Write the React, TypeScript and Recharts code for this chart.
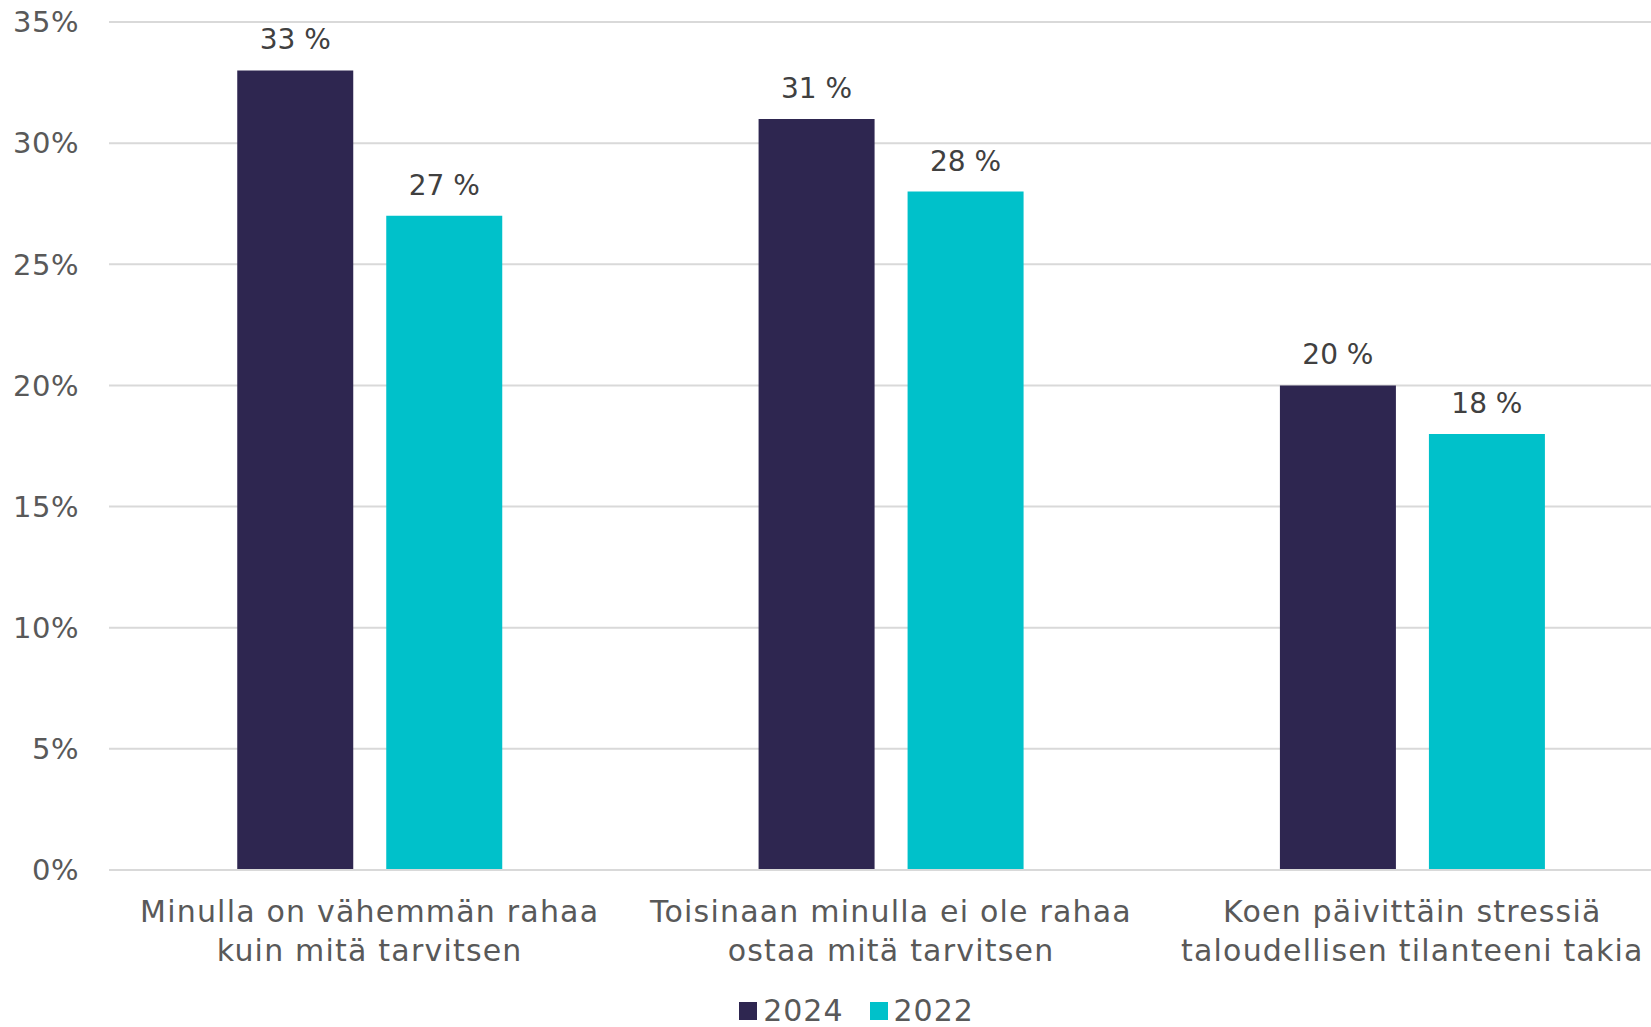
import { BarChart, Bar, XAxis, YAxis, CartesianGrid, Legend, LabelList } from "recharts";

const categories = [
  "Minulla on vähemmän rahaa\nkuin mitä tarvitsen",
  "Toisinaan minulla ei ole rahaa\nostaa mitä tarvitsen",
  "Koen päivittäin stressiä\ntaloudellisen tilanteeni takia",
];
const values2024 = [33, 31, 20];
const values2022 = [27, 28, 18];
const yTicks = [0, 5, 10, 15, 20, 25, 30, 35];

const FONT = "'DejaVu Sans', sans-serif";
const TEXT = "#595959";

const series = [
  { key: "y2024", name: "2024", color: "#2E2650" },
  { key: "y2022", name: "2022", color: "#00C1CA" },
];

const data = categories.map((name, i) => ({
  name,
  y2024: values2024[i],
  y2022: values2022[i],
}));

function CategoryTick(props: any) {
  const { x, y, payload } = props;
  const lines = String(payload.value).split("\n");
  return (
    <g transform={`translate(${x},${y})`}>
      {lines.map((line: string, i: number) => (
        <text
          key={i}
          x={0}
          y={44 + i * 39}
          textAnchor="middle"
          fill={TEXT}
          fontSize={30}
          letterSpacing={1.2}
          fontFamily={FONT}
        >
          {line}
        </text>
      ))}
    </g>
  );
}

function LegendContent() {
  return (
    <div
      style={{
        display: "flex",
        justifyContent: "center",
        alignItems: "center",
        gap: 26,
        fontFamily: FONT,
        fontSize: 30,
        lineHeight: "30px",
        letterSpacing: 1,
        color: TEXT,
        paddingLeft: 40,
        position: "relative",
        top: -1,
      }}
    >
      {series.map((s) => (
        <div key={s.key} style={{ display: "flex", alignItems: "center", gap: 6 }}>
          <span style={{ width: 18, height: 18, background: s.color, display: "inline-block" }} />
          <span>{s.name}</span>
        </div>
      ))}
    </div>
  );
}

export default function App() {
  return (
    <div
      style={{
        position: "absolute",
        left: 0,
        top: 0,
        width: 1651,
        height: 1027,
        overflow: "hidden",
        background: "#fff",
      }}
    >
      <BarChart
        width={1673}
        height={1027}
        data={data}
        margin={{ top: 22, right: 0, left: 0, bottom: 0 }}
        barCategoryGap="24.6%"
        barGap={33}
      >
        <CartesianGrid vertical={false} stroke="#D9D9D9" strokeWidth={2} />
        <XAxis
          dataKey="name"
          tick={<CategoryTick />}
          tickLine={false}
          axisLine={{ stroke: "#D9D9D9", strokeWidth: 2 }}
          height={127}
          interval={0}
        />
        <YAxis
          domain={[0, 35]}
          ticks={yTicks}
          width={109}
          tickFormatter={(v: number) => `${v}%`}
          tickLine={false}
          axisLine={false}
          tickSize={0}
          tickMargin={30}
          tick={{ fill: TEXT, fontSize: 29, fontFamily: FONT, letterSpacing: 0.5 }}
        />
        <Legend verticalAlign="bottom" align="center" content={<LegendContent />} />
        {series.map((s) => (
          <Bar key={s.key} dataKey={s.key} name={s.name} fill={s.color} isAnimationActive={false}>
            <LabelList
              dataKey={s.key}
              position="top"
              offset={21}
              formatter={(v: any) => `${v} %`}
              style={{ fill: "#404040", fontSize: 28, fontFamily: FONT }}
            />
          </Bar>
        ))}
      </BarChart>
    </div>
  );
}
